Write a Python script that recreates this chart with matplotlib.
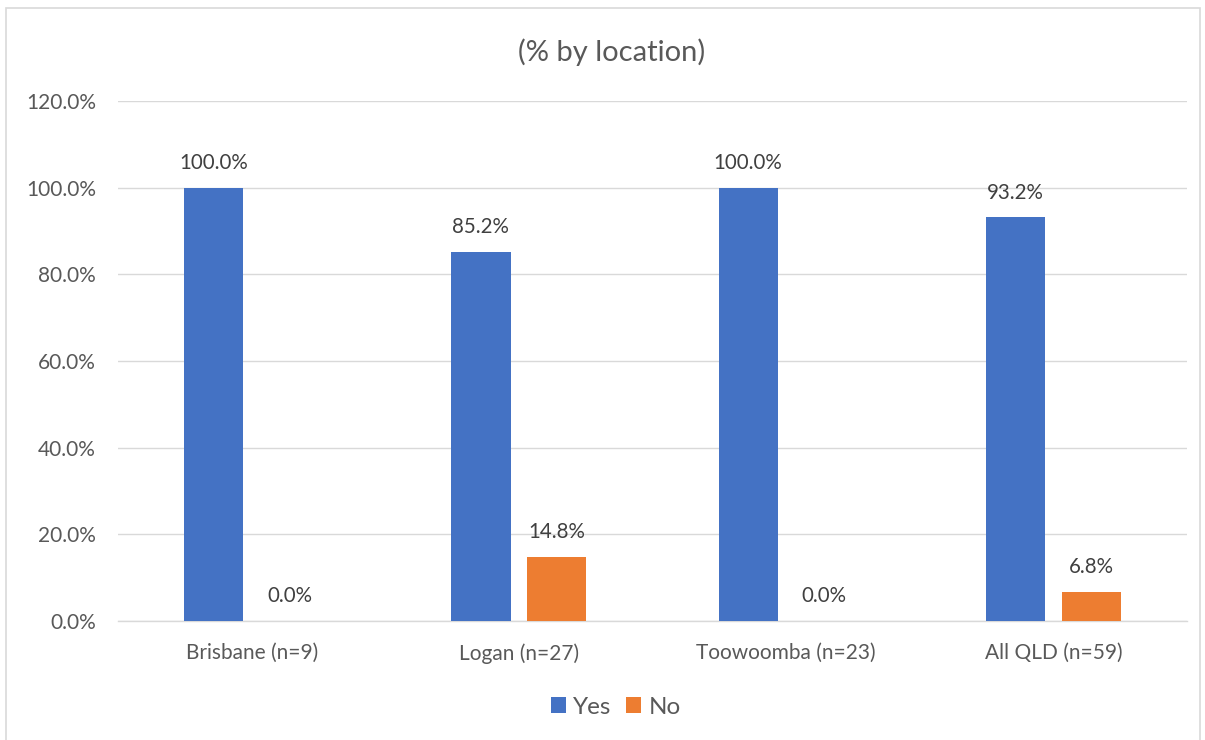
import matplotlib
matplotlib.use("Agg")
import matplotlib.pyplot as plt
from matplotlib.patches import Rectangle
from matplotlib.ticker import FuncFormatter
import numpy as np

categories = ["Brisbane (n=9)", "Logan (n=27)", "Toowoomba (n=23)", "All QLD (n=59)"]
yes_vals = [100.0, 85.2, 100.0, 93.2]
no_vals = [0.0, 14.8, 0.0, 6.8]
series_names = ["Yes", "No"]
title = "(% by location)"

plt.rcParams['font.family'] = ['Lato', 'DejaVu Sans']
W, H = 1205, 740
fig = plt.figure(figsize=(W / 100, H / 100), dpi=100)
ax = fig.add_axes([118 / W, 1 - 621 / H, (1187 - 118) / W, (621 - 101) / H])

x = np.arange(len(categories))
bw = 0.222
off = 0.142
c_yes = "#4472C4"
c_no = "#ED7D31"
b1 = ax.bar(x - off, yes_vals, bw, color=c_yes, label=series_names[0], zorder=3)
b2 = ax.bar(x + off, no_vals, bw, color=c_no, label=series_names[1], zorder=3)

tc = "#404040"
for bars, vals in ((b1, yes_vals), (b2, no_vals)):
    for r, v in zip(bars, vals):
        ax.annotate(f"{v:.1f}%", (r.get_x() + r.get_width() / 2, v), xytext=(0, 10.5),
                    textcoords="offset points", ha="center", va="bottom",
                    fontsize=14.8, color=tc)

ax.set_xlim(-0.5, len(categories) - 0.5)
ax.set_ylim(0, 120)
ax.set_yticks(np.arange(0, 121, 20))
ax.yaxis.set_major_formatter(FuncFormatter(lambda v, p: f"{v:.1f}%"))
ax.set_xticks(x)
ax.set_xticklabels(categories)
ax.tick_params(axis="both", length=0, labelsize=15, labelcolor="#595959")
ax.tick_params(axis="y", pad=16)
ax.tick_params(axis="x", pad=16)
ax.grid(axis="y", color="#D9D9D9", linewidth=1, zorder=0)
for s in ("top", "right", "left"):
    ax.spines[s].set_visible(False)
ax.spines["bottom"].set_color("#D9D9D9")
ax.spines["bottom"].set_linewidth(1)

fig.text(612 / W, 1 - 52 / H, title, ha="center", va="center", fontsize=21, color="#595959")

leg = fig.legend(handles=[b1, b2], labels=series_names, loc="center",
                 bbox_to_anchor=(616 / W, 1 - 707 / H), ncol=2, frameon=False,
                 fontsize=17.5, handlelength=0.62, handleheight=0.62, handletextpad=0.3,
                 columnspacing=0.6, labelcolor="#595959")

fig.patches.append(Rectangle((6 / W, -0.01), (1200 - 6) / W, 1 - 8 / H + 0.01,
                             transform=fig.transFigure, fill=False,
                             edgecolor="#D9D9D9", linewidth=1.2))
fig.savefig("out.png", dpi=100)
